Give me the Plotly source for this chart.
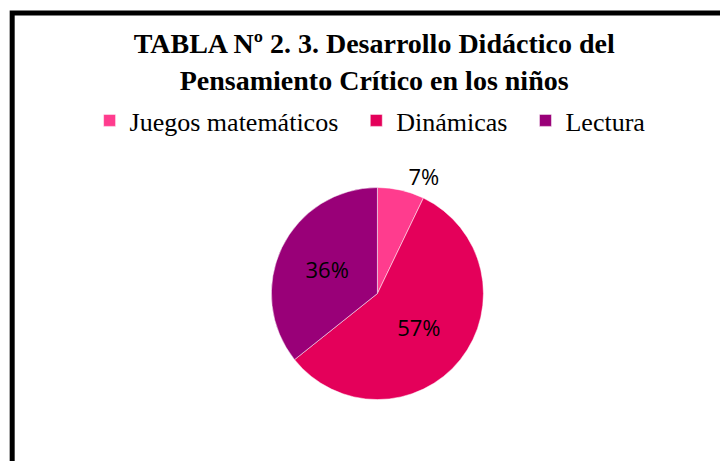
import plotly.graph_objects as go

categorias = ["Juegos matemáticos", "Dinámicas", "Lectura"]
valores = [2, 16, 10]
colores = ["#FF3C8E", "#E4005A", "#990078"]
posiciones = ["outside", "inside", "inside"]

# un poco de aire entre las entradas de la leyenda
relleno = "\u00a0\u00a0"
nombres = [c + relleno for c in categorias[:-1]] + [categorias[-1]]

fig = go.Figure(go.Pie(
    labels=nombres,
    values=valores,
    sort=False,
    direction="clockwise",
    rotation=0,
    marker=dict(colors=colores, line=dict(color="white", width=0.5)),
    textinfo="percent",
    texttemplate="%{percent:.0%}",
    textposition=posiciones,
    insidetextorientation="horizontal",
    textfont=dict(family="Open Sans", size=22, color="black"),
    domain=dict(x=[0.2, 0.86], y=[0.1506, 0.6106]),
    hoverinfo="label+percent",
))

fig.update_layout(
    width=728, height=461,
    paper_bgcolor="white", plot_bgcolor="white",
    margin=dict(l=0, r=0, t=0, b=0),
    title=dict(
        text="TABLA Nº 2. 3. Desarrollo Didáctico del<br>Pensamiento Crítico en los niños",
        x=0.503, xanchor="center", y=0.9015, yanchor="middle",
        font=dict(family="Liberation Serif", size=28, color="black", weight="bold"),
    ),
    legend=dict(
        orientation="h", x=0.5195, xanchor="center", y=0.756, yanchor="middle",
        font=dict(family="Liberation Serif", size=26, color="black"),
        itemwidth=30, tracegroupgap=0,
    ),
    shapes=[dict(
        type="rect", xref="paper", yref="paper",
        x0=0.006, x1=1.1, y0=-0.1, y1=0.989,
        line=dict(color="black", width=5), fillcolor="rgba(0,0,0,0)",
    )],
)

fig.write_html("out.html")
